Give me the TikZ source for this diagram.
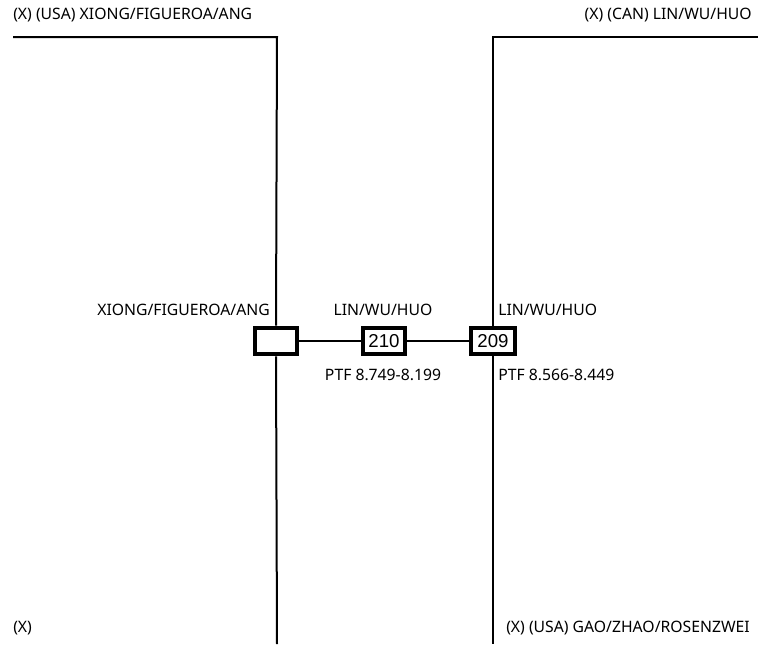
\documentclass[tikz,border=0pt]{standalone}
\usepackage{fontspec}
\setmainfont{Noto Sans}
\newfontfamily\boxfont{Liberation Sans}
\usepackage{tikz}
\tikzset{
  rline/.style  = {line width=1.5pt, black},
  pedbox/.style = {draw, line width=3pt, fill=white, inner sep=0pt,
                   minimum height=20pt, font=\boxfont\fontsize{14}{14}\selectfont},
  tag/.style    = {inner sep=0pt, font=\fontsize{11.8}{14}\selectfont}
}
\begin{document}
\begin{tikzpicture}[x=0.75pt,y=-0.75pt]
  \useasboundingbox (0,0) rectangle (758,644);
  % individuals
  \node[pedbox, minimum width=31.5pt] (junc) at (276,341)   {};
  \node[pedbox, minimum width=30.8pt] (b210) at (384,341) {210};
  \node[pedbox, minimum width=33pt]   (b209) at (493,341)   {209};
  \coordinate (tl) at (13,37);
  \coordinate (tlc) at (277,37);
  \coordinate (bl) at (277,644);
  \coordinate (tr) at (758,37);
  \coordinate (trc) at (493,37);
  \coordinate (br) at (493,644);
  % lines
  \draw[rline] (tl) -- (tlc) -- (junc.north);
  \draw[rline] (junc.south) -- (bl);
  \draw[rline] (tr) -- (trc) -- (b209.north);
  \draw[rline] (b209.south) -- (br);
  \draw[rline] (junc) -- (b210);
  \draw[rline] (b210) -- (b209);
  % labels
  \node[tag, anchor=west] (ttl) at (13,15)   {(X) (USA) XIONG/FIGUEROA/ANG};
  \node[tag, anchor=east] (ttr) at (752,15)  {(X) (CAN) LIN/WU/HUO};
  \node[tag, anchor=east] (lj)  at (270,310) {XIONG/FIGUEROA/ANG};
  \node[tag]              (l210) at (383,310) {LIN/WU/HUO};
  \node[tag, anchor=west] (l209) at (498,310) {LIN/WU/HUO};
  \node[tag]              (p210) at (383,375) {PTF 8.749-8.199};
  \node[tag, anchor=west] (p209) at (498,375) {PTF 8.566-8.449};
  \node[tag, anchor=west] (tbl) at (13,628)  {(X)};
  \node[tag, anchor=west] (tbr) at (506,628) {(X) (USA) GAO/ZHAO/ROSENZWEI};
\end{tikzpicture}
\end{document}
